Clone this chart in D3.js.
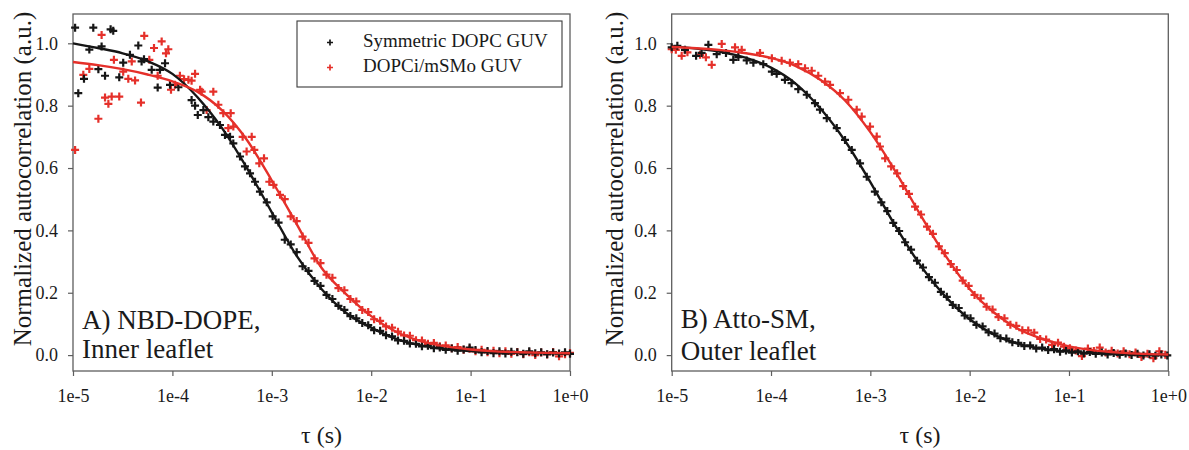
<!DOCTYPE html>
<html>
<head>
<meta charset="utf-8">
<script src="https://cdn.jsdelivr.net/npm/d3@7"></script>
<style>
  body { margin: 0; background: #fff; }
  svg { display: block; }
</style>
</head>
<body>
<div id="vis"></div>
<script>
// shared tau grid for the fitted curves (s)
var fitTau = [1e-5, 1.78e-5, 3.16e-5, 5.62e-5, 1e-4, 1.78e-4, 3.16e-4, 5.62e-4, 1e-3, 1.78e-3, 3.16e-3,
    5.62e-3, 1e-2, 1.78e-2, 3.16e-2, 5.62e-2, 1e-1, 1.78e-1, 3.16e-1, 5.62e-1, 1];

var fitSymA = [1.0, 0.985, 0.968, 0.943, 0.902, 0.828, 0.728, 0.6, 0.458, 0.318, 0.212,
    0.135, 0.088, 0.052, 0.031, 0.019, 0.013, 0.009, 0.007, 0.006, 0.005];
var fitAsymA = [0.94, 0.93, 0.917, 0.9, 0.878, 0.845, 0.785, 0.69, 0.56, 0.42, 0.28,
    0.195, 0.125, 0.075, 0.045, 0.028, 0.018, 0.012, 0.009, 0.007, 0.006];
var fitSymB = [0.99, 0.983, 0.972, 0.953, 0.922, 0.87, 0.79, 0.685, 0.555, 0.415, 0.29,
    0.19, 0.115, 0.065, 0.035, 0.02, 0.011, 0.006, 0.003, 0.001, 0.0];
var fitAsymB = [0.988, 0.984, 0.978, 0.968, 0.953, 0.927, 0.882, 0.815, 0.715, 0.59, 0.452,
    0.322, 0.212, 0.135, 0.082, 0.05, 0.028, 0.015, 0.008, 0.004, 0.002];

// measured points [tau (s), G]
var symA = [
    [1.05e-5,1.05],[1.13e-5,0.84],[1.29e-5,0.886],[1.46e-5,0.98],[1.6e-5,1.05],[1.8e-5,0.917],[1.94e-5,0.99],
    [2.1e-5,0.896],[2.39e-5,1.045],[2.54e-5,1.04],[2.92e-5,0.891],[3.2e-5,0.938],[3.74e-5,0.963],[4.54e-5,0.993],
    [4.9e-5,0.942],[5.18e-5,0.949],[6.19e-5,0.915],[7.11e-5,0.858],[7.5e-5,0.915],[8.43e-5,0.936],[9.46e-5,0.867],
    [1.15e-4,0.859],[1.56e-4,0.818],[1.69e-4,0.8],[1.8e-4,0.77],[2.05e-4,0.786],[2.3e-4,0.763],[2.58e-4,0.749],
    [3.01e-4,0.738],[3.38e-4,0.706],[3.8e-4,0.7],[4.1e-4,0.679],[4.79e-4,0.637],[5.37e-4,0.605],[6.04e-4,0.583],
    [6.78e-4,0.556],[7.6e-4,0.524],[8.9e-4,0.49],[1.02e-3,0.445],[1.17e-3,0.425],[1.35e-3,0.37],[1.55e-3,0.355],
    [1.78e-3,0.33],[2.04e-3,0.285],[2.34e-3,0.27],[2.69e-3,0.238],[3.09e-3,0.222],[3.55e-3,0.193],[4.07e-3,0.18],
    [4.68e-3,0.158],[5.37e-3,0.145],[6.17e-3,0.125],[7.08e-3,0.118],[8.13e-3,0.103],[9.33e-3,0.096],[1.07e-2,0.08],
    [1.23e-2,0.078],[1.41e-2,0.064],[1.62e-2,0.06],[1.86e-2,0.047],[2.14e-2,0.046],[2.45e-2,0.037],[2.82e-2,0.036],
    [3.24e-2,0.028],[3.72e-2,0.03],[4.27e-2,0.022],[4.9e-2,0.024],[5.62e-2,0.017],[6.46e-2,0.021],[7.41e-2,0.014],
    [8.51e-2,0.018],[9.77e-2,0.024],[0.112,0.016],[0.129,0.009],[0.148,0.013],[0.17,0.006],[0.195,0.012],
    [0.224,0.005],[0.257,0.011],[0.295,0.009],[0.339,0.004],[0.389,0.012],[0.447,0.006],[0.513,0.009],
    [0.589,0.003],[0.676,0.008],[0.776,0.005],[0.891,0.009],[1.0,0.004]
];
var asymA = [
    [1.05e-5,0.658],[1.27e-5,0.899],[1.46e-5,0.918],[1.8e-5,0.758],[1.94e-5,1.027],[2.1e-5,0.826],[2.27e-5,0.806],
    [2.45e-5,0.829],[2.58e-5,0.947],[2.92e-5,0.829],[3.2e-5,0.909],[3.6e-5,0.886],[3.9e-5,0.942],[4.21e-5,0.881],
    [4.83e-5,0.81],[5.21e-5,1.024],[5.86e-5,0.947],[6.53e-5,0.985],[7.11e-5,0.896],[7.8e-5,1.006],[8.62e-5,0.968],
    [9.1e-5,0.981],[9.68e-5,0.851],[1.06e-4,0.867],[1.19e-4,0.896],[1.31e-4,0.885],[1.45e-4,0.883],[1.56e-4,0.88],
    [1.69e-4,0.902],[1.9e-4,0.851],[1.97e-4,0.845],[2.21e-4,0.786],[2.58e-4,0.845],[2.9e-4,0.803],[3.25e-4,0.776],
    [3.65e-4,0.728],[3.86e-4,0.776],[4.1e-4,0.733],[5.09e-4,0.7],[5.58e-4,0.653],[6.28e-4,0.7],[6.67e-4,0.658],
    [7.48e-4,0.615],[8.35e-4,0.631],[9.44e-4,0.556],[1.04e-3,0.546],[1.21e-3,0.514],[1.35e-3,0.5],[1.55e-3,0.445],
    [1.78e-3,0.43],[2.04e-3,0.38],[2.34e-3,0.36],[2.69e-3,0.31],[3.09e-3,0.295],[3.55e-3,0.258],[4.07e-3,0.248],
    [4.68e-3,0.215],[5.37e-3,0.208],[6.17e-3,0.18],[7.08e-3,0.172],[8.13e-3,0.145],[9.33e-3,0.138],[1.07e-2,0.115],
    [1.23e-2,0.11],[1.41e-2,0.092],[1.62e-2,0.088],[1.86e-2,0.075],[2.14e-2,0.063],[2.45e-2,0.062],[2.82e-2,0.048],
    [3.24e-2,0.047],[3.72e-2,0.036],[4.27e-2,0.039],[4.9e-2,0.028],[5.62e-2,0.031],[6.46e-2,0.022],[7.41e-2,0.026],
    [8.51e-2,0.017],[9.77e-2,0.02],[0.112,0.012],[0.129,0.017],[0.148,0.009],[0.17,0.014],[0.195,0.006],
    [0.224,0.012],[0.257,0.004],[0.295,0.01],[0.339,0.003],[0.389,0.009],[0.447,0.0],[0.513,0.008],
    [0.589,0.002],[0.676,0.01],[0.776,-0.004],[0.891,0.003],[1.0,0.007]
];
var symB = [
    [1.0e-5,0.987],[1.14e-5,0.992],[1.36e-5,0.979],[1.76e-5,0.96],[2.0e-5,0.969],[2.34e-5,0.995],[2.84e-5,0.965],
    [3.52e-5,0.969],[4.17e-5,0.947],[4.69e-5,0.956],[5.69e-5,0.945],[6.64e-5,0.938],[8.36e-5,0.933],[1.02e-4,0.909],
    [1.14e-4,0.902],[1.38e-4,0.883],[1.61e-4,0.872],[1.88e-4,0.853],[2.29e-4,0.835],[2.77e-4,0.808],[3.11e-4,0.787],
    [3.64e-4,0.76],[4.59e-4,0.728],[5.56e-4,0.69],[6.5e-4,0.658],[7.88e-4,0.615],[9.2e-4,0.572],[1.11e-3,0.524],
    [1.29e-3,0.49],[1.48e-3,0.462],[1.7e-3,0.424],[1.95e-3,0.398],[2.24e-3,0.362],[2.57e-3,0.338],[2.95e-3,0.303],
    [3.39e-3,0.281],[3.89e-3,0.25],[4.47e-3,0.232],[5.13e-3,0.203],[5.89e-3,0.187],[6.76e-3,0.161],[7.76e-3,0.151],
    [8.91e-3,0.127],[1.02e-2,0.118],[1.17e-2,0.097],[1.35e-2,0.092],[1.55e-2,0.073],[1.78e-2,0.069],[2.04e-2,0.054],
    [2.34e-2,0.053],[2.69e-2,0.041],[3.09e-2,0.039],[3.55e-2,0.029],[4.07e-2,0.031],[4.68e-2,0.021],[5.37e-2,0.024],
    [6.17e-2,0.016],[7.08e-2,0.019],[8.13e-2,0.011],[9.33e-2,0.015],[0.107,0.008],[0.123,0.012],[0.141,0.005],
    [0.162,0.01],[0.186,0.004],[0.214,0.008],[0.245,0.002],[0.282,0.007],[0.324,0.001],[0.372,0.005],
    [0.427,0.0],[0.49,0.004],[0.562,-0.001],[0.646,0.003],[0.741,-0.002],[0.851,0.002],[0.977,-0.001]
];
var asymB = [
    [1.0e-5,0.981],[1.1e-5,0.979],[1.26e-5,0.96],[1.44e-5,0.971],[1.93e-5,0.963],[2.21e-5,0.955],[2.53e-5,0.931],
    [3.19e-5,0.998],[4.34e-5,0.987],[5.07e-5,0.979],[7.75e-5,0.969],[1.02e-4,0.952],[1.28e-4,0.944],[1.55e-4,0.938],
    [1.88e-4,0.933],[2.2e-4,0.92],[2.57e-4,0.912],[2.99e-4,0.896],[3.5e-4,0.877],[3.93e-4,0.867],[4.95e-4,0.84],
    [6.0e-4,0.819],[7.29e-4,0.787],[8.19e-4,0.765],[9.93e-4,0.733],[1.16e-3,0.701],[1.25e-3,0.669],[1.41e-3,0.631],
    [1.62e-3,0.605],[1.86e-3,0.583],[2.14e-3,0.542],[2.45e-3,0.517],[2.82e-3,0.476],[3.24e-3,0.451],[3.72e-3,0.412],
    [4.27e-3,0.389],[4.9e-3,0.349],[5.62e-3,0.327],[6.46e-3,0.292],[7.41e-3,0.273],[8.51e-3,0.239],[9.77e-3,0.222],
    [1.12e-2,0.193],[1.29e-2,0.182],[1.48e-2,0.155],[1.7e-2,0.146],[1.95e-2,0.122],[2.24e-2,0.118],[2.57e-2,0.097],
    [2.95e-2,0.094],[3.39e-2,0.08],[3.89e-2,0.079],[4.47e-2,0.072],[5.13e-2,0.052],[5.89e-2,0.05],[6.76e-2,0.033],
    [7.76e-2,0.04],[8.91e-2,0.027],[0.102,0.022],[0.117,0.015],[0.135,-0.003],[0.155,0.021],[0.178,0.013],
    [0.204,0.024],[0.234,0.008],[0.269,0.014],[0.309,0.005],[0.355,0.012],[0.407,0.003],[0.468,0.008],
    [0.537,-0.006],[0.617,0.004],[0.708,-0.01],[0.813,0.012],[0.933,0.001]
];

var seriesNames = ["Symmetric DOPC GUV", "DOPCi/mSMo GUV"];
var labelA = ["A) NBD-DOPE,", "Inner leaflet"];
var labelB = ["B) Atto-SM,", "Outer leaflet"];
var xTicks = [1e-5, 1e-4, 1e-3, 1e-2, 1e-1, 1];
var yTicks = [0, 0.2, 0.4, 0.6, 0.8, 1.0];

( function() {
    var width = 1189,
        height = 450;
    var plotTop = 14,
        plotBottom = 371;
    var serif = "Liberation Serif, Tinos, DejaVu Serif, Times New Roman, serif";

    var colors = {
        black: "#161616",
        red: "#e5302a",
        frame: "#5e5e5e",
        text: "#1a1a1a"
    }

    var svg = d3.select("#vis")
        .append("svg")
        .attr("width", width)
        .attr("height", height)
        .attr("font-family", serif)

    svg.append("rect").attr("width", width).attr("height", height).attr("fill", "#fff")

    var y = d3.scaleLinear().domain([-0.051, 1.094]).range([plotBottom, plotTop])

    var panels = [
        { sym: symA, asym: asymA, fitSym: fitSymA, fitAsym: fitAsymA, left: 73, right: 570,
          yTitleX: 31, label: labelA, labelY: [329, 358], legend: true },
        { sym: symB, asym: asymB, fitSym: fitSymB, fitAsym: fitAsymB, left: 671.7, right: 1168.3,
          yTitleX: 623, label: labelB, labelY: [328, 360], legend: false }
    ]

    var plusPath = "M-4,0H4M0,-4V4";

    function expFormat(d) {
        var e = Math.round(Math.log10(d));
        return "1e" + (e < 0 ? "-" : "+") + Math.abs(e);
    }

    function styleAxis(g) {
        g.select(".domain").remove()
        g.attr("font-family", serif).attr("font-size", 18)
        g.selectAll("line").attr("stroke", colors.frame).attr("stroke-width", 1.2)
        g.selectAll("text").attr("fill", colors.text)
    }

    panels.forEach(function(p) {
        var x = d3.scaleLog().domain([1e-5, 1]).range([p.left, p.right])
        var g = svg.append("g")

        g.append("g")
            .attr("transform", "translate(0," + plotBottom + ")")
            .call(d3.axisBottom(x).tickValues(xTicks).tickFormat(expFormat)
                .tickSize(5).tickSizeOuter(0).tickPadding(13))
            .call(styleAxis)

        g.append("g")
            .attr("transform", "translate(" + p.left + ",0)")
            .call(d3.axisLeft(y).tickValues(yTicks).tickFormat(d3.format(".1f"))
                .tickSize(5).tickSizeOuter(0).tickPadding(10))
            .call(styleAxis)

        g.append("rect")
            .attr("x", p.left)
            .attr("y", plotTop)
            .attr("width", p.right - p.left)
            .attr("height", plotBottom - plotTop)
            .attr("fill", "none")
            .attr("stroke", colors.frame)
            .attr("stroke-width", 1.3)

        // data points
        g.selectAll(".asym")
            .data(p.asym)
            .enter().append("path")
            .attr("class", "asym")
            .attr("d", plusPath)
            .attr("transform", function(d) { return "translate(" + x(d[0]) + "," + y(d[1]) + ")" })
            .attr("stroke", colors.red)
            .attr("stroke-width", 2.2)

        g.selectAll(".sym")
            .data(p.sym)
            .enter().append("path")
            .attr("class", "sym")
            .attr("d", plusPath)
            .attr("transform", function(d) { return "translate(" + x(d[0]) + "," + y(d[1]) + ")" })
            .attr("stroke", colors.black)
            .attr("stroke-width", 2.2)

        // fitted curves
        var line = d3.line()
            .x(function(d, i) { return x(fitTau[i]) })
            .y(function(d) { return y(d) })
            .curve(d3.curveMonotoneX)

        g.append("path")
            .datum(p.fitSym)
            .attr("d", line)
            .attr("fill", "none")
            .attr("stroke", colors.black)
            .attr("stroke-width", 2.4)

        g.append("path")
            .datum(p.fitAsym)
            .attr("d", line)
            .attr("fill", "none")
            .attr("stroke", colors.red)
            .attr("stroke-width", 2.4)

        // titles
        g.append("text")
            .attr("transform", "translate(" + p.yTitleX + "," + 179 + ") rotate(-90)")
            .attr("text-anchor", "middle")
            .attr("fill", colors.text)
            .attr("font-size", 25)
            .text("Normalized autocorrelation (a.u.)")

        g.append("text")
            .attr("x", (p.left + p.right) / 2)
            .attr("y", 443)
            .attr("text-anchor", "middle")
            .attr("fill", colors.text)
            .attr("font-size", 24)
            .text("\u03c4 (s)")

        g.selectAll(".panel-label")
            .data(p.label)
            .enter().append("text")
            .attr("class", "panel-label")
            .attr("x", p.left + 9)
            .attr("y", function(d, i) { return p.labelY[i] })
            .attr("fill", colors.text)
            .attr("font-size", 27)
            .text(function(d) { return d })

        if (p.legend) {
            var lg = g.append("g")
            lg.append("rect")
                .attr("x", 297).attr("y", 21)
                .attr("width", 265).attr("height", 66)
                .attr("fill", "#fff")
                .attr("stroke", "#3a3a3a")
                .attr("stroke-width", 1.1)

            var items = lg.selectAll(".item")
                .data(seriesNames)
                .enter().append("g")
                .attr("class", "item")
                .attr("transform", function(d, i) { return "translate(0," + (i * 25) + ")" })

            items.append("path")
                .attr("d", "M-3,0H3M0,-3V3")
                .attr("transform", "translate(330,42.5)")
                .attr("stroke", function(d, i) { return i === 0 ? colors.black : colors.red })
                .attr("stroke-width", 1.7)

            items.append("text")
                .attr("x", 363)
                .attr("y", 47)
                .attr("fill", colors.text)
                .attr("font-size", 19)
                .text(function(d) { return d })
        }
    })
}) ();
</script>
</body>
</html>
